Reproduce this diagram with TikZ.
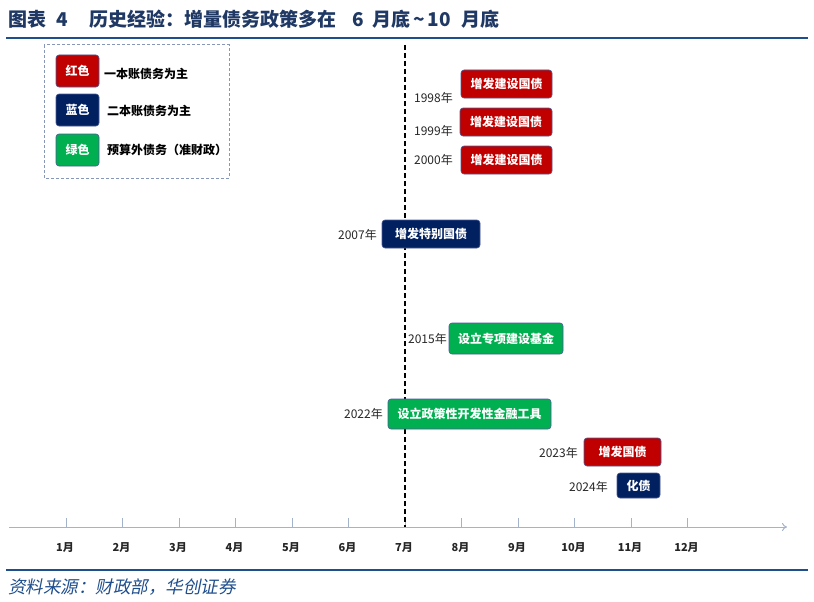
\documentclass[tikz,border=0pt]{standalone}
\usepackage{fontspec}
\newfontfamily\cjk{Noto Sans CJK SC}
\newfontfamily\cjksl[FakeSlant=0.2]{Noto Sans CJK SC}
\usetikzlibrary{arrows.meta}
\definecolor{hred}{HTML}{C00000}
\definecolor{hblue}{HTML}{002060}
\definecolor{hgreen}{HTML}{00B050}
\definecolor{hframe}{HTML}{4A5A96}
\definecolor{titleblue}{HTML}{1F3864}
\definecolor{ruleblue}{HTML}{1F4E8C}
\definecolor{axisc}{HTML}{A3B3CC}
\definecolor{legc}{HTML}{8797BA}
\tikzset{
  evbox/.style={draw=hframe, line width=0.6pt, rounded corners=3pt, inner sep=0pt,
    text=white, font=\cjk\bfseries\fontsize{12}{12}\selectfont},
  yearlbl/.style={anchor=east, inner sep=0pt, font=\cjk\fontsize{12}{12}\selectfont, text=black!85},
  leglbl/.style={anchor=west, inner sep=0pt, font=\cjk\bfseries\fontsize{12}{12}\selectfont, text=black},
  monthlbl/.style={inner sep=0pt, font=\cjk\bfseries\fontsize{11}{11}\selectfont, text=black!85},
  tickline/.style={draw=axisc, line width=0.8pt},
}
\begin{document}
\begin{tikzpicture}[x=1pt,y=-1pt]
\useasboundingbox (0,0) rectangle (814,602);
% title and rules
\node[anchor=west, inner sep=0pt, text=titleblue, font=\cjk\bfseries\fontsize{19}{19}\selectfont] (title) at (8,19) {图表\hspace{10pt}4\hspace{22pt}历史经验：增量债务政策多在\hspace{16pt}6\hspace{8pt}月底\hspace{3pt}\textasciitilde\hspace{3pt}10\hspace{10pt}月底};
\draw[ruleblue, line width=2pt] (6,38) coordinate (tl) -- (808,38) coordinate (tr);
\draw[ruleblue, line width=2pt] (6,570) coordinate (bl) -- (808,570) coordinate (br);
\node[anchor=west, inner sep=0pt, text=ruleblue, font=\cjksl\fontsize{17.5}{17.5}\selectfont] (src) at (8,587) {资料来源：财政部，华创证券};
% legend
\draw[legc, line width=1pt, dash pattern=on 3pt off 2pt] (44,45) rectangle (229,178);
\node[evbox, fill=hred, minimum width=43pt, minimum height=32pt] (lr) at (77.5,71) {红色};
\node[evbox, fill=hblue, minimum width=43pt, minimum height=32pt] (lb) at (77.5,110) {蓝色};
\node[evbox, fill=hgreen, minimum width=43pt, minimum height=32pt] (lg) at (77.5,150) {绿色};
\node[leglbl] (lrt) at (104,74) {一本账债务为主};
\node[leglbl] (lbt) at (107,111) {二本账债务为主};
\node[leglbl] (lgt) at (107,150) {预算外债务（准财政）};
% axis
\coordinate (a0) at (9,527);
\coordinate (a1) at (787,527);
\draw[axisc, line width=1pt, -{To[length=5pt,width=8pt]}] (a0) -- (a1);
\foreach \i in {1,...,12}{
  \pgfmathsetmacro{\xx}{66+56.5*(\i-1)}
  \draw[tickline] (\xx,518) -- (\xx,527);
  \node[monthlbl] (m\i) at (\xx-1,548) {\i 月};
}
% dashed line
\coordinate (d0) at (405,45);
\coordinate (d1) at (405,527);
\draw[black, line width=1.6pt, dash pattern=on 5pt off 3pt] (d0) -- (d1);
% events
\node[evbox, fill=hred, minimum width=91pt, minimum height=28pt] (e98) at (506.5,84) {增发建设国债};
\node[evbox, fill=hred, minimum width=92pt, minimum height=28pt] (e99) at (506,122) {增发建设国债};
\node[evbox, fill=hred, minimum width=91pt, minimum height=28pt] (e00) at (506.5,160) {增发建设国债};
\node[evbox, fill=hblue, minimum width=98pt, minimum height=28pt] (e07) at (431,234) {增发特别国债};
\node[evbox, fill=hgreen, minimum width=114pt, minimum height=31pt] (e15) at (506,338.5) {设立专项建设基金};
\node[evbox, fill=hgreen, minimum width=163pt, minimum height=30pt] (e22) at (469.5,414) {设立政策性开发性金融工具};
\node[evbox, fill=hred, minimum width=77pt, minimum height=28pt] (e23) at (622.5,452) {增发国债};
\node[evbox, fill=hblue, minimum width=43pt, minimum height=25pt] (e24) at (638.5,485.5) {化债};
% years
\node[yearlbl] (y98) at (453,98) {1998年};
\node[yearlbl] (y99) at (453,131) {1999年};
\node[yearlbl] (y00) at (453,160) {2000年};
\node[yearlbl] (y07) at (377,235) {2007年};
\node[yearlbl] (y15) at (447,339) {2015年};
\node[yearlbl] (y22) at (383,414) {2022年};
\node[yearlbl] (y23) at (578,453) {2023年};
\node[yearlbl] (y24) at (608,487) {2024年};
\end{tikzpicture}
\end{document}
